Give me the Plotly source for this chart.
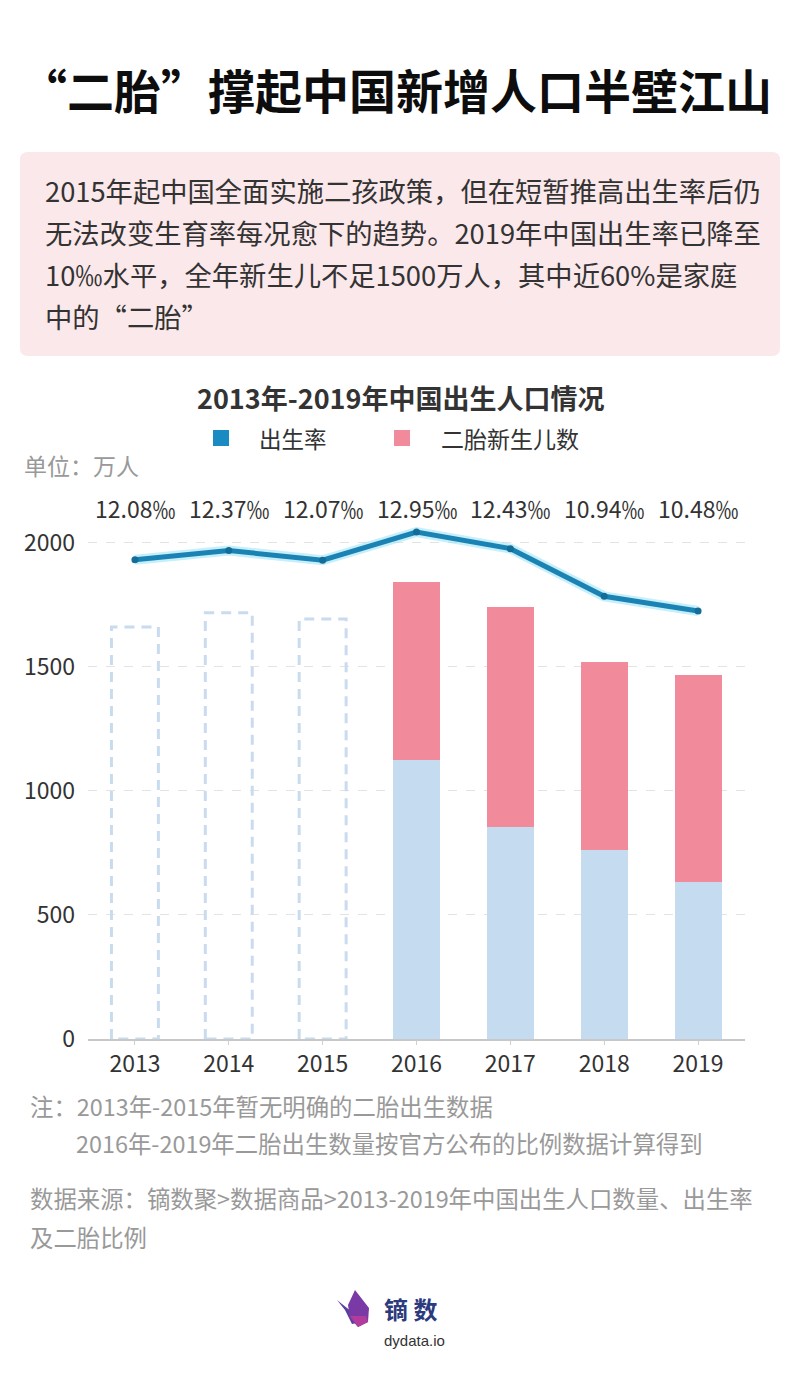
import plotly.graph_objects as go

# ---------------- data ----------------
years = ["2013", "2014", "2015", "2016", "2017", "2018", "2019"]
birth_rate = [12.08, 12.37, 12.07, 12.95, 12.43, 10.94, 10.48]
rate_labels = ["12.08‰", "12.37‰", "12.07‰", "12.95‰", "12.43‰", "10.94‰", "10.48‰"]
early_years_total = [1660, 1717, 1692]          # 2013-2015, no split available (dashed)
first_child = [1124, 854, 761, 633]              # 2016-2019
second_child = [717, 887, 758, 834]              # 2016-2019 二胎新生儿数
y_ticks = [0, 500, 1000, 1500, 2000]

FONT = "Noto Sans CJK SC"
OFF = 8                    # page body margin of the html page
W, H = 800 - OFF, 1376 - OFF
PX0, PW = 88, 657          # plot area left / width (page px)
PY0, PH = 1039, 546        # plot area bottom / height (page px)


def px(x):
    return (x - PX0) / PW


def py(y):
    return (PY0 - y) / PH


idx = list(range(len(years)))
n_early = len(early_years_total)
late_idx = idx[n_early:]

fig = go.Figure()

# dashed outline boxes for 2013-2015
for i, v in zip(idx[:n_early], early_years_total):
    fig.add_trace(go.Scatter(
        x=[i - 0.25, i - 0.25, i + 0.25, i + 0.25, i - 0.25],
        y=[0, v, v, 0, 0], mode="lines",
        line=dict(color="#c9dcef", width=3, dash="10px,7px"),
        hoverinfo="skip", showlegend=False))

# stacked bars 2016-2019
fig.add_trace(go.Bar(x=late_idx, y=first_child, width=0.5,
                     marker=dict(color="#c4dbf0", line=dict(width=0)),
                     name="一孩", showlegend=False))
fig.add_trace(go.Bar(x=late_idx, y=second_child, width=0.5,
                     marker=dict(color="#f18a9a", line=dict(width=0)),
                     name="二胎新生儿数", showlegend=False))

# birth rate line (secondary, hidden axis) with glow
fig.add_trace(go.Scatter(x=idx, y=birth_rate, yaxis="y2", mode="lines",
                         line=dict(color="rgba(150,225,245,0.55)", width=10),
                         hoverinfo="skip", showlegend=False))
fig.add_trace(go.Scatter(x=idx, y=birth_rate, yaxis="y2", mode="lines+markers",
                         line=dict(color="#1b82b4", width=5),
                         marker=dict(color="#146d98", size=7),
                         name="出生率", showlegend=False))

# rate labels in a row above the plot
for i, t in zip(idx, rate_labels):
    fig.add_annotation(x=i, y=2139, xref="x", yref="y", text=t, showarrow=False,
                       font=dict(family=FONT, size=23, color="#333333"),
                       xanchor="center", yanchor="middle")

shapes = []
ann = []

# title
ann.append(dict(x=px(396), y=py(88), text="“二胎”撑起中国新增人口半壁江山",
                font=dict(family=FONT, size=47, color="#0d0d0d", weight="bold")))

# description box with rounded corners
x0, x1, y0, y1, r = 20, 780, 152, 356, 8
def P(x, y):
    return f"{px(x):.5f},{py(y):.5f}"
path = (f"M {P(x0 + r, y0)} L {P(x1 - r, y0)} Q {P(x1, y0)} {P(x1, y0 + r)} "
        f"L {P(x1, y1 - r)} Q {P(x1, y1)} {P(x1 - r, y1)} L {P(x0 + r, y1)} "
        f"Q {P(x0, y1)} {P(x0, y1 - r)} L {P(x0, y0 + r)} Q {P(x0, y0)} {P(x0 + r, y0)} Z")
shapes.append(dict(type="path", xref="paper", yref="paper", path=path,
                   fillcolor="#fbe8ea", line=dict(width=0), layer="below"))

body = ["2015年起中国全面实施二孩政策，但在短暂推高出生率后仍",
        "无法改变生育率每况愈下的趋势。2019年中国出生率已降至",
        "10‰水平，全年新生儿不足1500万人，其中近60%是家庭",
        "中的“二胎”"]
for k, line in enumerate(body):
    ann.append(dict(x=px(43), y=py(190 + 42 * k), text=line, xanchor="left",
                    font=dict(family=FONT, size=27.3, color="#333333")))

# chart title
ann.append(dict(x=px(400), y=py(397), text="2013年-2019年中国出生人口情况",
                font=dict(family=FONT, size=27, color="#333333", weight="bold")))

# legend
shapes.append(dict(type="rect", xref="paper", yref="paper",
                   x0=px(213), x1=px(229), y0=py(446), y1=py(430),
                   fillcolor="#1a8ac3", line=dict(width=0)))
ann.append(dict(x=px(257), y=py(438), text="出生率", xanchor="left",
                font=dict(family=FONT, size=22.5, color="#333333")))
shapes.append(dict(type="rect", xref="paper", yref="paper",
                   x0=px(394), x1=px(410), y0=py(446), y1=py(430),
                   fillcolor="#f18a9a", line=dict(width=0)))
ann.append(dict(x=px(439), y=py(438), text="二胎新生儿数", xanchor="left",
                font=dict(family=FONT, size=23, color="#333333")))

# unit
ann.append(dict(x=px(22), y=py(465), text="单位：万人", xanchor="left",
                font=dict(family=FONT, size=23, color="#999999")))

# footnotes
notes = [(28, 1106, "注：2013年-2015年暂无明确的二胎出生数据"),
         (74, 1143, "2016年-2019年二胎出生数量按官方公布的比例数据计算得到"),
         (28, 1198, "数据来源：镝数聚>数据商品>2013-2019年中国出生人口数量、出生率"),
         (28, 1237, "及二胎比例")]
for x, y, t in notes:
    ann.append(dict(x=px(x), y=py(y), text=t, xanchor="left",
                    font=dict(family=FONT, size=23.4, color="#999999")))

# logo
def LP(pts):
    return "M " + " L ".join(P(a, b) for a, b in pts) + " Z"
shapes.append(dict(type="path", xref="paper", yref="paper",
                   path=LP([(337, 1300), (345, 1310), (352, 1324), (362, 1322), (352, 1312)]),
                   fillcolor="#5b3f9e", line=dict(width=0)))
shapes.append(dict(type="path", xref="paper", yref="paper",
                   path=LP([(355, 1290), (348, 1305), (350, 1318), (358, 1327), (368, 1322), (369, 1308)]),
                   fillcolor="#7a3aa6", line=dict(width=0)))
shapes.append(dict(type="path", xref="paper", yref="paper",
                   path=LP([(350, 1316), (358, 1327), (368, 1322), (366, 1316)]),
                   fillcolor="#b23c9c", line=dict(width=0)))
ann.append(dict(x=px(382), y=py(1308), text="镝 数", xanchor="left",
                font=dict(family=FONT, size=24, color="#2c3a7e", weight="bold")))
ann.append(dict(x=px(382), y=py(1340), text="dydata.io", xanchor="left",
                font=dict(family="Liberation Sans", size=15, color="#333333")))

for a in ann:
    a.setdefault("xanchor", "center")
    fig.add_annotation(xref="paper", yref="paper", showarrow=False,
                       yanchor="middle", **a)

fig.update_layout(
    width=W, height=H,
    margin=dict(l=PX0 - OFF, r=W - (PX0 - OFF) - PW, t=(PY0 - OFF) - PH, b=H - (PY0 - OFF)),
    paper_bgcolor="white", plot_bgcolor="white",
    barmode="stack", bargap=0.5,
    shapes=shapes,
    showlegend=False,
    xaxis=dict(range=[-0.5, 6.5], tickmode="array", tickvals=idx, ticktext=years,
               showgrid=False, zeroline=False, showline=True, linecolor="#c8c8c8",
               linewidth=1.5, ticks="outside", ticklen=4, tickcolor="#d0d0d0",
               tickfont=dict(family=FONT, size=23, color="#333333")),
    yaxis=dict(range=[0, 2200], tickmode="array", tickvals=y_ticks,
               showgrid=True, gridcolor="#e3e3e3", griddash="dash", gridwidth=1,
               zeroline=False, showline=False, ticks="",
               tickfont=dict(family=FONT, size=23, color="#333333"), ticklabelstandoff=12),
    yaxis2=dict(range=[-2.894, 14.169], overlaying="y", side="right",
                visible=False, showgrid=False, zeroline=False),
)

fig.write_html("out.html")
